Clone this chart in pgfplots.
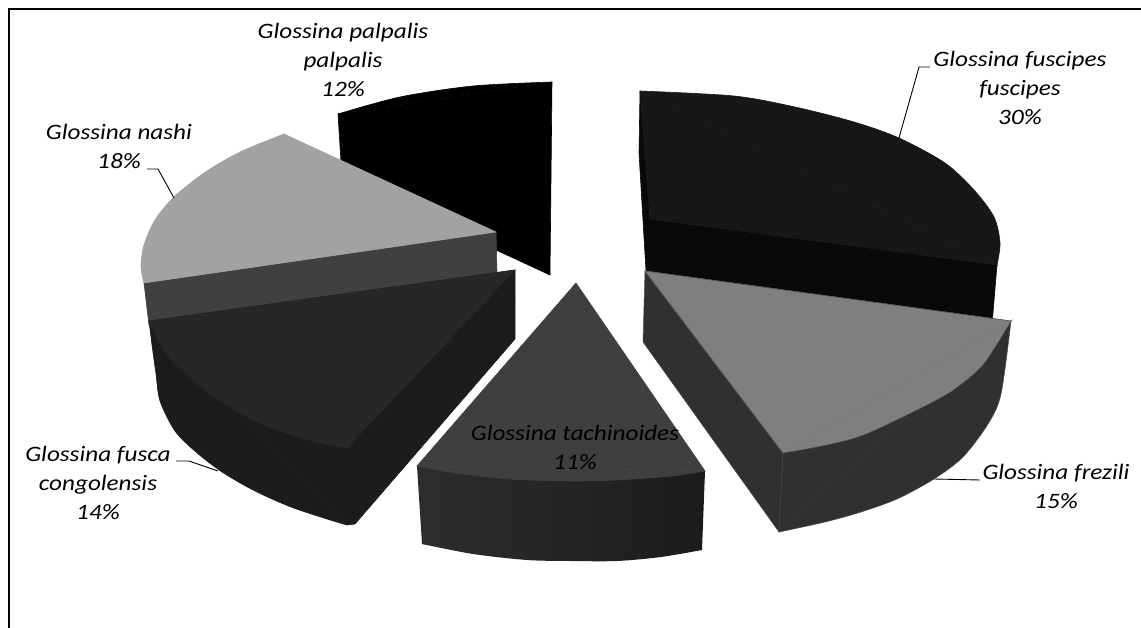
\documentclass[border=0pt]{standalone}
\usepackage{pgfplots}
\pgfplotsset{compat=1.18}
\usepackage{fontspec}
\setmainfont[FakeStretch=1.145]{Carlito}
\definecolor{gA}{HTML}{000000}
\definecolor{gB}{HTML}{A2A2A2}
\definecolor{gC}{HTML}{404040}
\definecolor{gD}{HTML}{272727}
\definecolor{gE}{HTML}{1C1C1C}
\definecolor{gF}{HTML}{3F3F3F}
\definecolor{gG}{HTML}{171717}
\definecolor{gH}{HTML}{090909}
\definecolor{gI}{HTML}{7F7F7F}
\definecolor{gJ}{HTML}{303030}
\definecolor{gK}{HTML}{2D2D2D}
\tikzset{
  lab/.style={font=\fontsize{22}{29}\selectfont\itshape, align=center, inner sep=0pt},
  face/.style={fill=#1, draw=#1, line width=0.6pt},
}
\begin{document}
\begin{tikzpicture}
\useasboundingbox (0,0) rectangle (1141pt,628pt);
\begin{axis}[
    at={(0,0)}, anchor=south west,
    hide axis, scale only axis,
    width=1141pt, height=628pt,
    xmin=0, xmax=1141, ymin=0, ymax=628,
    y dir=reverse,
    clip=false,
    every axis plot/.append style={no markers},
]
% frame
\addplot[black, line width=2pt] coordinates {(9,628) (9,9.5) (1141,9.5)};

% palpalis
\addplot[face=gA] coordinates {(338,114) (552,82) (550,275) (496,250) (341,162) (338,114)};
\addplot[face=gA, smooth] coordinates {(338,114) (400,97) (473,86) (552,82)};

% nashi
\addplot[face=gC] coordinates {(144,283) (496,232) (497,272) (515,300) (149,325) (144,283)};
\addplot[face=gB] coordinates {(284,134) (144,283) (496,232) (284,134)};
\addplot[face=gB, smooth] coordinates {(284,134) (240,152) (204,173) (174,197) (155,220) (144,245) (141,267) (144,283)};

% fusca
\addplot[face=gE] coordinates {(149,321) (347,525) (355,524) (515,339) (515,270) (149,321)};
\addplot[face=gE, smooth] coordinates {(149,321) (152,345) (156,374) (160,401) (175,431) (196,452) (222,472) (255,491) (291,507) (327,519) (347,525)};
\addplot[face=gD] coordinates {(149,321) (347,448) (515,270) (149,321)};
\addplot[face=gD, smooth] coordinates {(149,321) (164,351) (189,377) (225,404) (269,427) (313,441) (347,448)};

% tachinoides: the quad reaches into the arc piece so that no seam shows
\addplot[left color=gK, right color=gE, draw=none, smooth] coordinates {(422,544) (473,554) (527,560) (570,561) (617,561) (661,557) (702,550)};
\addplot[left color=gK, right color=gE, draw=none] coordinates {(417,466) (422,544) (570,555) (702,550) (705,471)};
\addplot[face=gF] coordinates {(576,283) (417,466) (705,471) (576,283)};
\addplot[face=gF, smooth] coordinates {(417,466) (455,473) (509,479) (570,481) (617,480) (672,476) (705,471)};

% fuscipes
\addplot[face=gH] coordinates {(640,91) (639,153) (646,271) (992,325) (997,265) (650,219) (640,91)};
\addplot[face=gG] coordinates {(640,91) (997,265) (650,219) (640,91)};
\addplot[face=gG, smooth] coordinates {(640,91) (734,96) (795,107) (854,122) (899,138) (945,163) (974,190) (994,217) (1000,243) (997,265)};

% frezili
\addplot[fill=gJ, draw=black!70, line width=0.5pt] coordinates {(645,271) (643,342) (779,532) (783,453) (645,271)};
\addplot[face=gJ] coordinates {(783,453) (779,532) (1011,321) (783,453)};
\addplot[fill=gJ, draw=none, smooth] coordinates {(779,532) (825,522) (861,512) (897,499) (934,479) (963,457) (988,424) (1001,394) (1011,321)};
\addplot[draw=black!70, line width=0.5pt, smooth] coordinates {(779,532) (825,522) (861,512) (897,499) (934,479) (963,457) (988,424) (1001,394) (1011,321)};
\addplot[face=gI] coordinates {(645,271) (1011,321) (783,453) (645,271)};
\addplot[fill=gI, draw=none, smooth] coordinates {(1011,321) (999,341) (981,367) (952,391) (915,411) (861,436) (817,447) (783,453)};
\addplot[draw=black!70, line width=0.5pt, smooth] coordinates {(1011,321) (999,341) (981,367) (952,391) (915,411) (861,436) (817,447) (783,453)};
\addplot[draw=black!70, line width=0.5pt] coordinates {(783,453) (645,271) (1011,321)};
\addplot[draw=black!70, line width=0.5pt] coordinates {(783,453) (779,532)};

% leader lines
\addplot[black, line width=0.9pt] coordinates {(147,169) (158,169) (174,198)};
\addplot[black, line width=0.9pt] coordinates {(930,67) (919,67) (899,138)};
\addplot[black, line width=0.9pt] coordinates {(176,461) (189,461) (218,471)};
\addplot[black, line width=0.9pt] coordinates {(980,480) (934,479)};

\node[lab] at (axis cs:343,60) {Glossina palpalis\\palpalis\\12\%};
\node[lab] at (axis cs:119,146) {Glossina nashi\\18\%};
\node[lab] at (axis cs:1020,88) {Glossina fuscipes\\fuscipes\\30\%};
\node[lab] at (axis cs:98,483) {Glossina fusca\\congolensis\\14\%};
\node[lab] at (axis cs:575,447) {Glossina tachinoides\\11\%};
\node[lab] at (axis cs:1056,486) {Glossina frezili\\15\%};
\end{axis}
\end{tikzpicture}
\end{document}
